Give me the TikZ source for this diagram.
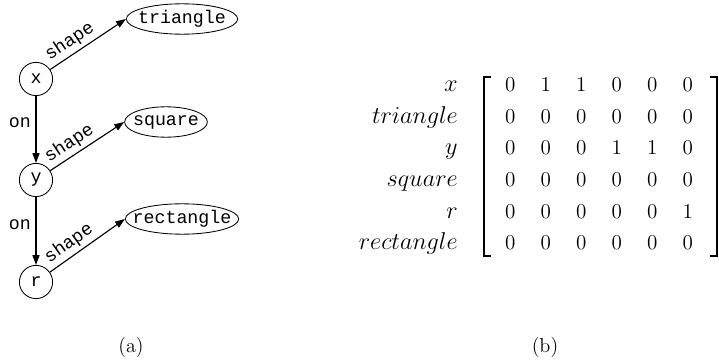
\documentclass[tikz,border=0pt]{standalone}
\usepackage{fix-cm}
\usepackage{fontspec}
\usetikzlibrary{shapes.geometric,arrows.meta,matrix}
\newfontfamily\courierfont{Liberation Mono}

\begin{document}
\begin{tikzpicture}[x=0.025cm, y=-0.025cm, varnode/.style={circle, draw, semithick, minimum size=0.83cm, inner sep=0pt, font=\courierfont\fontsize{13}{15}\selectfont}, shapenode/.style={ellipse, draw, semithick, minimum height=0.76cm, inner ysep=0pt, font=\courierfont\fontsize{13}{15}\selectfont}, rel/.style={thick, -{Triangle[length=7pt,width=5pt]}}, rellabel/.style={font=\courierfont\fontsize{13}{15}\selectfont, sloped, above=-1pt, pos=0.35}, rowlabel/.style={font=\fontsize{17.28}{20}\selectfont, inner sep=0pt}, bracket/.style={line width=1.3pt, line cap=butt}, caption/.style={font=\fontsize{14.4}{17}\selectfont}]
\useasboundingbox (0,0) rectangle (719,360);
%(a) graph
\node[varnode] at (36,79) (x) {x};
\node[varnode] at (36,180) (y) {y};
\node[varnode] at (36,282) (r) {r};
\node[shapenode, inner xsep=-3.2pt] at (182,19) (triangle) {triangle};
\node[shapenode, inner xsep=-2.6pt] at (166,122) (square) {square};
\node[shapenode, inner xsep=-6.6pt] at (182,219) (rectangle) {rectangle};
\draw[rel] (x) -- (triangle.west) node[rellabel] {shape};
\draw[rel] (y) -- (square.west) node[rellabel] {shape};
\draw[rel] (r) -- (rectangle.west) node[rellabel] {shape};
\draw[rel] (x) -- (y) node[pos=0.4, left, font=\courierfont\fontsize{13}{15}\selectfont] {on};
\draw[rel] (y) -- (r) node[pos=0.4, left, font=\courierfont\fontsize{13}{15}\selectfont] {on};
%(b) matrix
\matrix[matrix of math nodes, inner sep=0pt, row sep=0.24cm, column sep=0cm, nodes={minimum width=0.8875cm, minimum height=0.55cm, inner sep=0pt, font=\fontsize{15}{18}\selectfont}] at (599,164) (adj) {
0 & 1 & 1 & 0 & 0 & 0 \\
0 & 0 & 0 & 0 & 0 & 0 \\
0 & 0 & 0 & 1 & 1 & 0 \\
0 & 0 & 0 & 0 & 0 & 0 \\
0 & 0 & 0 & 0 & 0 & 1 \\
0 & 0 & 0 & 0 & 0 & 0 \\
};
\draw[bracket] (adj.north west) ++(-1,3) -- ++(-7,0) -- ++(0,179) -- ++(7,0);
\draw[bracket] (adj.north east) ++(4,3) -- ++(7,0) -- ++(0,179) -- ++(-7,0);
\coordinate (labx) at (458,0);
\foreach \lab [count=\i] in {x,triangle,y,square,r,rectangle}
  \node[rowlabel, anchor=base east] at (adj-\i-1.base -| labx) (row\i) {$\lab$};
\node[caption] at (131,347) (capa) {(a)};
\node[caption] at (545,347) (capb) {(b)};
\end{tikzpicture}
\end{document}
